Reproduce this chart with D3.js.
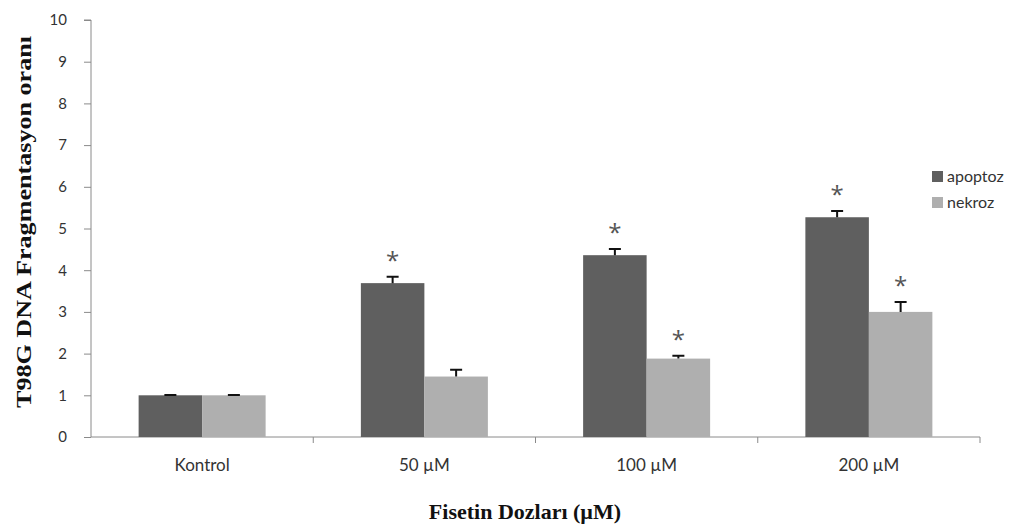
<!DOCTYPE html>
<html>
<head>
<meta charset="utf-8">
<script src="https://cdn.jsdelivr.net/npm/d3@7"></script>
<style>
  body { margin: 0; background: #fff; }
  svg { display: block; }
  .tick text { font-family: Lato, "Open Sans", sans-serif; font-size: 15px; fill: #333; }
  .xax .tick text { font-size: 17px; }
</style>
</head>
<body>
<svg width="1023" height="532"></svg>
<script>
// chart values
const doses = ['Kontrol', '50 µM', '100 µM', '200 µM'];
const seriesNames = ['apoptoz', 'nekroz'];
const apoptoz = [1.0, 3.69, 4.36, 5.27];
const apoptozErr = [0.01, 0.15, 0.15, 0.15];
const nekroz = [1.0, 1.45, 1.88, 3.0];
const nekrozErr = [0.01, 0.16, 0.07, 0.24];
const apoptozStar = [false, true, true, true];
const nekrozStar = [false, false, true, true];
const yTicks = [0, 1, 2, 3, 4, 5, 6, 7, 8, 9, 10];

const colors = {apoptoz: '#5f5f5f', nekroz: '#afafaf'};

const rows = [];
doses.forEach((d, i) => {
  rows.push({dose: d, s: 'apoptoz', v: apoptoz[i], e: apoptozErr[i], star: apoptozStar[i]});
  rows.push({dose: d, s: 'nekroz', v: nekroz[i], e: nekrozErr[i], star: nekrozStar[i]});
});

const svg = d3.select('svg');
const m = {left: 91, right: 980, top: 20, bottom: 437};

const x = d3.scaleBand().domain(doses).range([m.left, m.right]);
const inner = d3.scaleBand().domain(seriesNames).range([0, x.bandwidth()]).paddingOuter(0.75);
const y = d3.scaleLinear().domain([0, 10]).range([m.bottom, m.top]);

// y axis
const yAx = svg.append('g')
  .attr('transform', `translate(${m.left},0)`)
  .call(d3.axisLeft(y).tickValues(yTicks).tickSize(7).tickPadding(17));
yAx.select('.domain').attr('stroke', '#8a8a8a').attr('d', `M-7,${y(10)}H0V${m.bottom}`);
yAx.selectAll('.tick line').attr('stroke', '#8a8a8a');

// x axis
const xAx = svg.append('g')
  .attr('class', 'xax')
  .attr('transform', `translate(0,${m.bottom})`)
  .call(d3.axisBottom(x).tickSize(0).tickPadding(22));
xAx.select('.domain').attr('stroke', '#8a8a8a').attr('d', `M${m.left},0H${m.right}`);
xAx.selectAll('.tick line').remove();
xAx.selectAll('.sep')
  .data(doses)
  .enter().append('line')
    .attr('x1', d => x(d) + x.bandwidth())
    .attr('x2', d => x(d) + x.bandwidth())
    .attr('y1', 0).attr('y2', 6)
    .attr('stroke', '#8a8a8a');

// bars
const g = svg.append('g');
g.selectAll('rect.bar')
  .data(rows)
  .enter().append('rect')
    .attr('class', 'bar')
    .attr('x', d => x(d.dose) + inner(d.s))
    .attr('width', inner.bandwidth())
    .attr('y', d => y(d.v))
    .attr('height', d => y(0) - y(d.v))
    .attr('fill', d => colors[d.s]);

// error bars (upper only)
const cx = d => x(d.dose) + inner(d.s) + inner.bandwidth() / 2;
g.selectAll('path.err')
  .data(rows)
  .enter().append('path')
    .attr('class', 'err')
    .attr('d', d => `M${cx(d)},${y(d.v)}V${y(d.v + d.e)}M${cx(d) - 6},${y(d.v + d.e)}H${cx(d) + 6}`)
    .attr('stroke', '#111')
    .attr('stroke-width', 2)
    .attr('fill', 'none');

// significance stars
g.selectAll('text.star')
  .data(rows.filter(d => d.star))
  .enter().append('text')
    .attr('x', cx)
    .attr('y', d => y(d.v + d.e) - 8)
    .attr('text-anchor', 'middle')
    .style('font-family', '"Open Sans", sans-serif')
    .style('font-size', '24px')
    .attr('fill', '#555')
    .text('*');

// legend
const leg = svg.append('g').attr('transform', 'translate(932,171)');
seriesNames.forEach((s, i) => {
  leg.append('rect').attr('x', 0).attr('y', i * 26).attr('width', 11).attr('height', 11).attr('fill', colors[s]);
  leg.append('text').attr('x', 15).attr('y', i * 26 + 11)
    .style('font-family', 'Lato, "Open Sans", sans-serif').style('font-size', '16px').attr('fill', '#333')
    .text(s);
});

// axis titles
svg.append('text')
  .attr('transform', 'translate(31,222) rotate(-90)')
  .attr('text-anchor', 'middle')
  .attr('textLength', 372).attr('lengthAdjust', 'spacingAndGlyphs')
  .style('font-family', '"Liberation Serif", serif').style('font-weight', 'bold').style('font-size', '22px')
  .attr('fill', '#111')
  .text('T98G DNA Fragmentasyon oranı');

svg.append('text')
  .attr('x', 525).attr('y', 519)
  .attr('text-anchor', 'middle')
  .style('font-family', '"Liberation Serif", serif').style('font-weight', 'bold').style('font-size', '22px')
  .attr('fill', '#111')
  .text('Fisetin Dozları (µM)');
</script>
</body>
</html>
